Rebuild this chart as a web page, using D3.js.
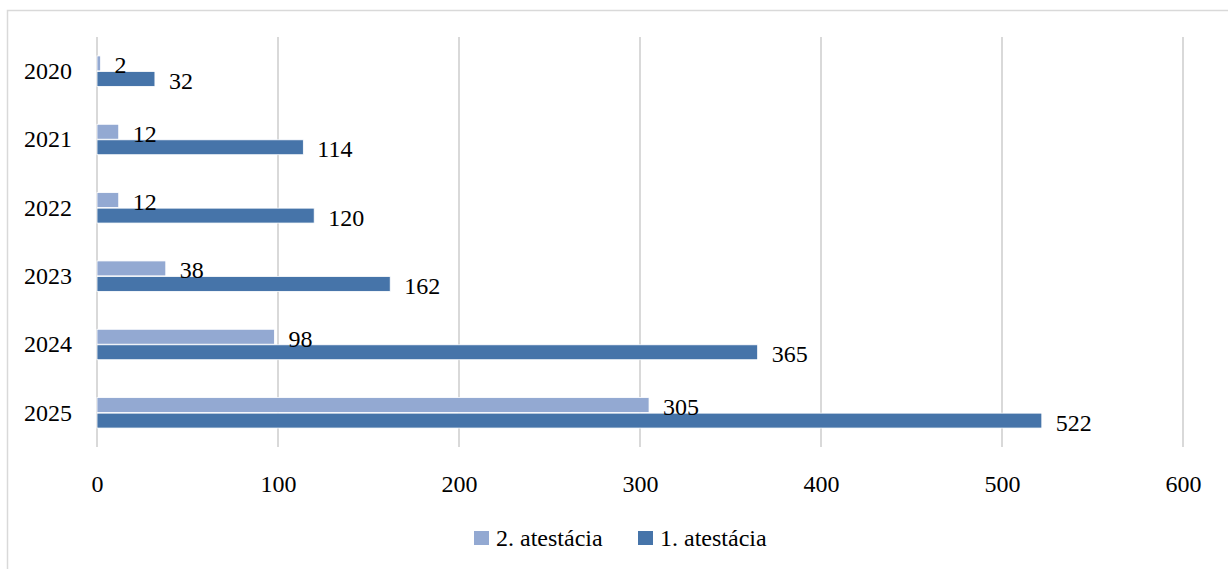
<!DOCTYPE html>
<html>
<head>
<meta charset="utf-8">
<script src="https://cdn.jsdelivr.net/npm/d3@7"></script>
<style>
  body { margin: 0; background: #fff; }
  svg { font-family: "Liberation Serif", "DejaVu Serif", serif; }
</style>
</head>
<body>
<svg id="chart" width="1228" height="569"></svg>
<script>
// données
const years = ['2020', '2021', '2022', '2023', '2024', '2025'];
const att2 = [2, 12, 12, 38, 98, 305];
const att1 = [32, 114, 120, 162, 365, 522];
const xTicks = [0, 100, 200, 300, 400, 500, 600];
const seriesNames = ['2. atestácia', '1. atestácia'];

const colors = ['#93a9d2', '#4674a9'];
const fontSize = 24;

const svg = d3.select('#chart');

// cadre
svg.append('rect')
    .attr('x', 7.5).attr('y', 10.5)
    .attr('width', 1240).attr('height', 580)
    .attr('fill', 'none')
    .attr('stroke', '#d9d9d9')
    .attr('stroke-width', 1.5);

const x = d3.scaleLinear().domain([0, 600]).range([97, 1183]);
const y = d3.scaleBand().domain(years).range([37, 447]);
const inner = d3.scaleBand().domain([0, 1]).range([0, y.bandwidth()]).paddingOuter(1.22).paddingInner(0.04);

// grille
svg.append('g')
    .selectAll('line')
    .data(xTicks)
    .join('line')
    .attr('x1', d => x(d)).attr('x2', d => x(d))
    .attr('y1', 37).attr('y2', 447)
    .attr('stroke', '#d9d9d9')
    .attr('stroke-width', 2);

// axe x (labels seuls)
const xAxis = svg.append('g')
    .attr('transform', 'translate(0,447)')
    .call(d3.axisBottom(x).tickValues(xTicks).tickSize(0).tickPadding(28));
xAxis.select('.domain').remove();
xAxis.attr('font-family', null).attr('font-size', fontSize);
xAxis.selectAll('text').attr('fill', '#000');

// axe y
const yAxis = svg.append('g')
    .attr('transform', 'translate(72,0)')
    .call(d3.axisLeft(y).tickSize(0).tickPadding(0));
yAxis.select('.domain').remove();
yAxis.attr('font-family', null).attr('font-size', fontSize);
yAxis.selectAll('text').attr('fill', '#000');

const series = [att2, att1];

// barres d'abord, étiquettes ensuite (au-dessus)
const barLayer = svg.append('g');
const labelLayer = svg.append('g');

series.forEach((vals, s) => {
    barLayer.append('g')
        .selectAll('rect')
        .data(vals)
        .join('rect')
        .attr('x', x(0))
        .attr('y', (d, i) => y(years[i]) + inner(s))
        .attr('width', d => x(d) - x(0))
        .attr('height', inner.bandwidth())
        .attr('fill', colors[s])
        .attr('stroke', '#fff')
        .attr('stroke-width', 0.8);

    labelLayer.append('g')
        .selectAll('text')
        .data(vals)
        .join('text')
        .attr('x', d => x(d) + 14)
        .attr('y', (d, i) => y(years[i]) + inner(s) + inner.bandwidth() / 2 + 10)
        .attr('font-size', fontSize)
        .attr('fill', '#000')
        .text(d => d);
});

// légende
const legend = svg.append('g');
const legendX = [474, 638];
seriesNames.forEach((name, i) => {
    legend.append('rect')
        .attr('x', legendX[i]).attr('y', 531)
        .attr('width', 15).attr('height', 14)
        .attr('fill', colors[i]);
    legend.append('text')
        .attr('x', legendX[i] + 22).attr('y', 546)
        .attr('font-size', fontSize)
        .attr('fill', '#000')
        .text(name);
});
</script>
</body>
</html>
